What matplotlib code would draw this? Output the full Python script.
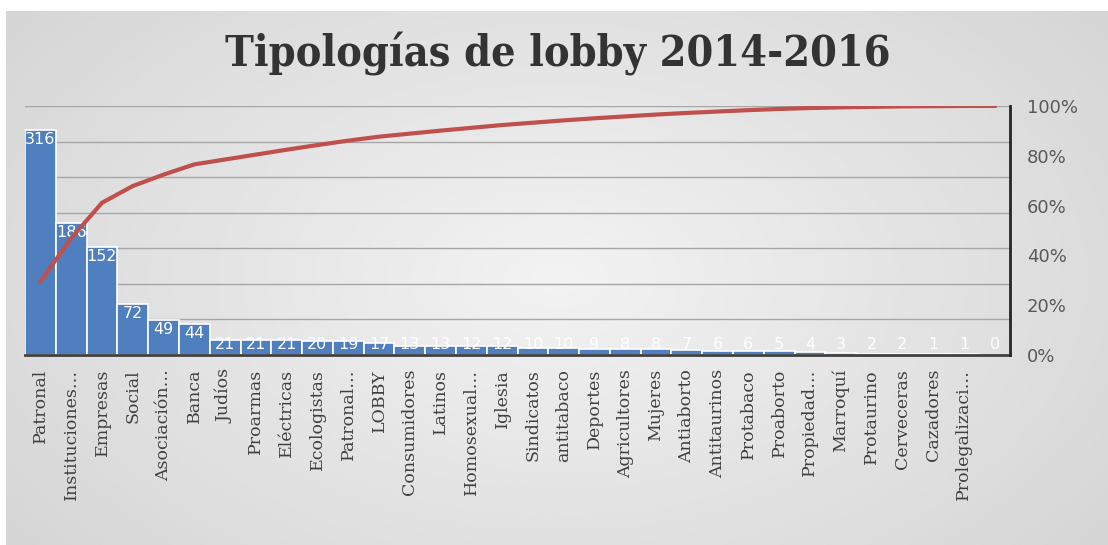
import matplotlib.pyplot as plt
import numpy as np

# Data
categories = ["Patronal", "Instituciones…", "Empresas", "Social", "Asociación…", "Banca",
              "Judíos", "Proarmas", "Eléctricas", "Ecologistas", "Patronal…", "LOBBY",
              "Consumidores", "Latinos", "Homosexual…", "Iglesia", "Sindicatos", "antitabaco",
              "Deportes", "Agricultores", "Mujeres", "Antiaborto", "Antitaurinos", "Protabaco",
              "Proaborto", "Propiedad…", "Marroquí", "Protaurino", "Cerveceras", "Cazadores",
              "Prolegalizaci…", ""]
counts = [316, 186, 152, 72, 49, 44, 21, 21, 21, 20, 19, 17, 13, 13, 12, 12,
          10, 10, 9, 8, 8, 7, 6, 6, 5, 4, 3, 2, 2, 1, 1, 0]
pct_ticks = [0, 20, 40, 60, 80, 100]

counts = np.array(counts)
cum_pct = np.cumsum(counts) / counts.sum() * 100
x = np.arange(len(categories))

fig = plt.figure(figsize=(11.08, 5.45), dpi=100)

# background gradient like the Excel chart area
bg = fig.add_axes([0, 0, 1, 1])
yy, xx = np.mgrid[-1:1:200j, -1:1:400j]
grad = 0.95 - 0.10 * np.sqrt((xx * 0.9) ** 2 + (yy * 0.7) ** 2)
bg.imshow(grad, cmap='gray', vmin=0, vmax=1, aspect='auto',
          extent=[0.005, 1.0, 0.0, 0.978])
bg.set_xlim(0, 1)
bg.set_ylim(0, 1)
bg.axis('off')

ax = fig.add_axes([0.0226, 0.3486, 0.889, 0.457])
ax.set_facecolor('none')
ax.bar(x, counts, width=1.0, color='#4F7FBE', edgecolor='white', linewidth=1.2, zorder=2)
ax.set_xlim(-0.5, len(categories) - 0.5)
ax.set_ylim(0, 350)
ax.set_yticks(np.arange(0, 351, 50))
ax.yaxis.grid(True, color='#a6a6a6', linewidth=1)
ax.set_axisbelow(True)
for s in ['top', 'right', 'left']:
    ax.spines[s].set_visible(False)
ax.spines['bottom'].set_color('#404040')
ax.spines['bottom'].set_linewidth(2)

ax.set_xticks(x)
ax.set_xticklabels(categories, rotation=90, family='DejaVu Serif', fontsize=12.5, color='#404040')
ax.tick_params(axis='x', length=0, pad=10)

# value labels at the inside end, kept above the baseline for short bars
for xi, v in zip(x, counts):
    ax.text(xi, max(v - 3, 25), str(v), ha='center', va='top', color='white', fontsize=11.5,
            zorder=4)

ax2 = ax.twinx()
ax2.plot(x, cum_pct, color='#C0504D', linewidth=3, zorder=5)
ax2.set_ylim(0, 100)
ax2.set_yticks(pct_ticks)
ax2.set_yticklabels([f"{p}%" for p in pct_ticks], fontsize=13, color='#595959')
ax2.tick_params(axis='y', length=0, pad=12)
for s in ['top', 'left', 'bottom']:
    ax2.spines[s].set_visible(False)
ax2.spines['right'].set_color('#262626')
ax2.spines['right'].set_linewidth(2)
# twinx turns the left ticks back on
ax.tick_params(axis='y', left=False, labelleft=False, length=0)

fig.text(0.503, 0.9, "Tipologías de lobby 2014-2016", ha='center', va='center',
         family='DejaVu Serif', fontstretch='condensed', fontweight='bold',
         fontsize=31, color='#333333')

fig.savefig('out.png', dpi=100)
